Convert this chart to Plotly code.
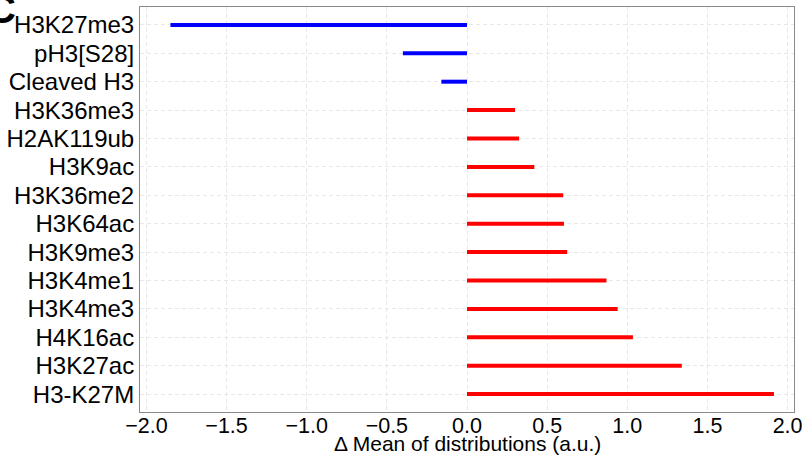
import plotly.graph_objects as go

categories = ["H3K27me3", "pH3[S28]", "Cleaved H3", "H3K36me3", "H2AK119ub", "H3K9ac",
              "H3K36me2", "H3K64ac", "H3K9me3", "H3K4me1", "H3K4me3", "H4K16ac",
              "H3K27ac", "H3-K27M"]
delta_mean = [-1.85, -0.40, -0.16, 0.30, 0.325, 0.42, 0.60, 0.605, 0.625, 0.87,
              0.94, 1.035, 1.34, 1.915]
x_ticks = [-2.0, -1.5, -1.0, -0.5, 0.0, 0.5, 1.0, 1.5, 2.0]
x_tick_text = ["\u22122.0", "\u22121.5", "\u22121.0", "\u22120.5", "0.0", "0.5", "1.0", "1.5", "2.0"]

fig = go.Figure()
for color, sel in (("#0000ff", lambda v: v < 0), ("#ff0000", lambda v: v >= 0)):
    xs, ys = [], []
    for c, v in zip(categories, delta_mean):
        if sel(v):
            xs += [0, v, None]
            ys += [c, c, None]
    fig.add_trace(go.Scatter(x=xs, y=ys, mode="lines", line=dict(color=color, width=4),
                             showlegend=False, hoverinfo="skip"))

font = "Liberation Sans, Arial, sans-serif"
fig.update_layout(
    width=804, height=456,
    margin=dict(l=140, r=10, t=7, b=44),
    plot_bgcolor="white", paper_bgcolor="white",
    font=dict(family=font, color="black"),
)
grid = dict(showgrid=True, gridcolor="#e8e8e8", griddash="4px,3px", gridwidth=1,
            zeroline=False, showline=True, linecolor="#8a8a8a", linewidth=1, mirror=True,
            ticks="", automargin=False)
fig.update_xaxes(
    range=[-2.04, 2.04], tickmode="array", tickvals=x_ticks, ticktext=x_tick_text,
    tickfont=dict(size=21.5), ticklabelstandoff=-6, **grid,
)
fig.update_yaxes(
    categoryorder="array", categoryarray=categories[::-1], range=[-0.63, 13.63],
    tickmode="array", tickvals=categories, ticktext=categories,
    tickfont=dict(size=24), ticklabelstandoff=0, **grid,
)
fig.add_annotation(text="\u0394 Mean of distributions (a.u.)", xref="paper", yref="paper",
                   x=0.5, y=0, yshift=-31, showarrow=False, font=dict(size=21),
                   xanchor="center", yanchor="middle")
fig.add_annotation(text="<b>C</b>", xref="paper", yref="paper", x=0, y=1,
                   xshift=-139, yshift=-2, showarrow=False, font=dict(size=40, family=font),
                   xanchor="center", yanchor="middle")
fig.write_html("out.html", config={"displayModeBar": False},
               post_script="document.body.style.margin='0';")
